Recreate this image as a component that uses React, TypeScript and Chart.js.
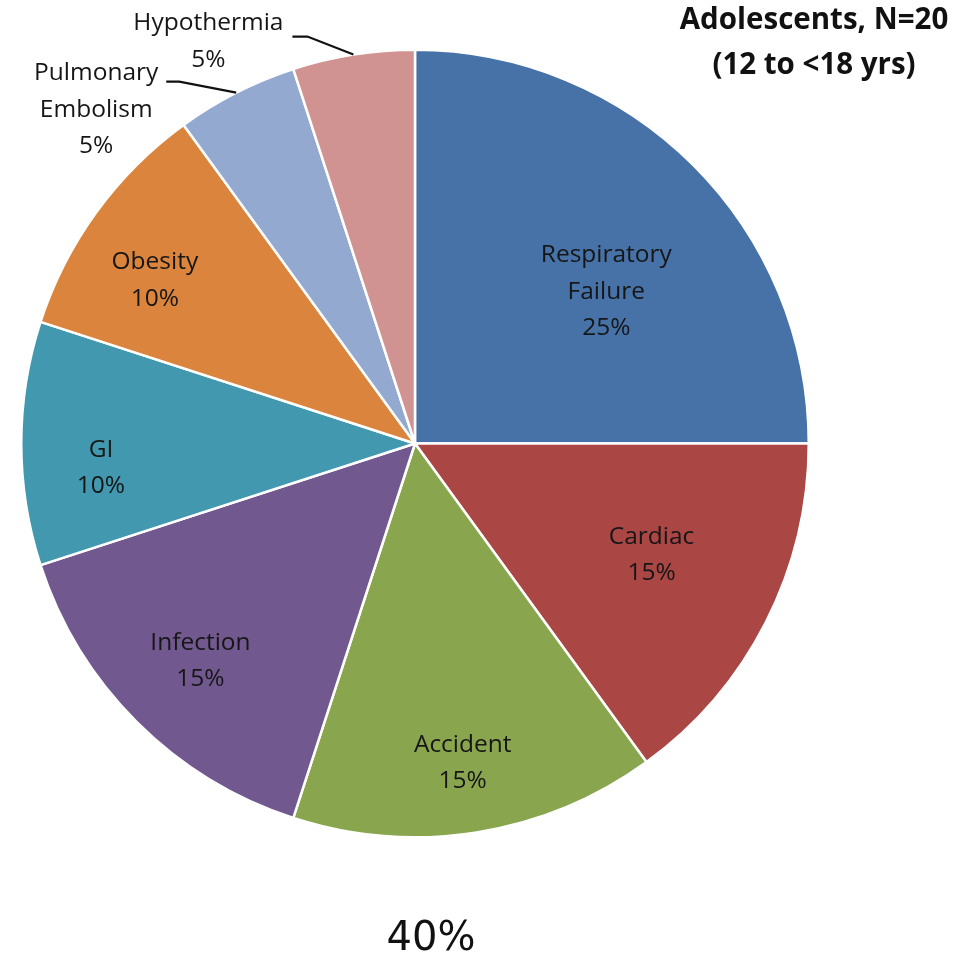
import React, { useEffect, useRef } from "react";
import { Chart, registerables } from "chart.js";

Chart.register(...registerables);

// ---- data ----
const categories = [
  "Respiratory Failure",
  "Cardiac",
  "Accident",
  "Infection",
  "GI",
  "Obesity",
  "Pulmonary Embolism",
  "Hypothermia",
];
const counts = [5, 3, 3, 3, 2, 2, 1, 1];
const sliceColors = [
  "#4672A8",
  "#AA4644",
  "#89A54E",
  "#71588F",
  "#4198AF",
  "#DB843D",
  "#93A9CF",
  "#D19392",
];
const titleLines = ["Adolescents, N=20", "(12 to <18 yrs)"];
const footerText = "40%";

// ---- label layout (style, not data) ----
const labelRadius = [0.62, 0.664, 0.82, 0.776, 0.8, 0.78, 1, 1];
const labelAngleShift = [6.6, -1.8, 0.5, -0.4, -4.5, -3.9, 0, 0];
const leaders: Record<number, { elbow: [number, number]; tail: number; text: [number, number] }> = {
  6: { elbow: [-57, -11], tail: 13, text: [-140, 17] },
  7: { elbow: [-46, -18], tail: 15, text: [-145, -13] },
};

const LABEL_FONT = '24.5px "Open Sans", Lato, sans-serif';
const LINE_H = 36.5;
const TEXT_COLOR = "#161616";

const labelPlugin = {
  id: "sliceLabels",
  afterDatasetsDraw(chart: any) {
    const ctx: CanvasRenderingContext2D = chart.ctx;
    const meta = chart.getDatasetMeta(0);
    const total = counts.reduce((a, b) => a + b, 0);
    meta.data.forEach((arc: any, i: number) => {
      const p = arc.getProps(["x", "y", "startAngle", "endAngle", "outerRadius"], true);
      const mid = (p.startAngle + p.endAngle) / 2;
      const lines = [...categories[i].split(" "), `${Math.round((counts[i] / total) * 100)}%`];
      ctx.save();
      ctx.font = LABEL_FONT;
      ctx.fillStyle = TEXT_COLOR;
      ctx.textAlign = "center";
      ctx.textBaseline = "middle";
      let cx: number;
      let cy: number;
      const leader = leaders[i];
      if (leader) {
        const ex = p.x + p.outerRadius * Math.cos(mid);
        const ey = p.y + p.outerRadius * Math.sin(mid);
        const bx = ex + leader.elbow[0];
        const by = ey + leader.elbow[1];
        ctx.strokeStyle = "#111111";
        ctx.lineWidth = 2.2;
        ctx.beginPath();
        ctx.moveTo(ex, ey);
        ctx.lineTo(bx, by);
        ctx.lineTo(bx - leader.tail, by);
        ctx.stroke();
        cx = ex + leader.text[0];
        cy = ey + leader.text[1];
      } else {
        const a = mid + (labelAngleShift[i] * Math.PI) / 180;
        const rr = labelRadius[i] * p.outerRadius;
        cx = p.x + rr * Math.cos(a);
        cy = p.y + rr * Math.sin(a);
      }
      lines.forEach((t, k) => {
        ctx.fillText(t, cx, cy + (k - (lines.length - 1) / 2) * LINE_H);
      });
      ctx.restore();
    });
  },
  afterDraw(chart: any) {
    const ctx: CanvasRenderingContext2D = chart.ctx;
    ctx.save();
    ctx.fillStyle = "#111111";
    ctx.textAlign = "center";
    ctx.textBaseline = "middle";
    ctx.font = 'bold 29.5px "Open Sans", Lato, sans-serif';
    ctx.fillText(titleLines[0], 814, 21);
    ctx.fillText(titleLines[1], 814, 66);
    ctx.font = '40px "DejaVu Sans", sans-serif';
    ctx.fillText(footerText, 431, 940);
    ctx.restore();
  },
};

export default function App() {
  const canvasRef = useRef<HTMLCanvasElement | null>(null);
  useEffect(() => {
    if (!canvasRef.current) return;
    const chart = new Chart(canvasRef.current, {
      type: "pie",
      data: {
        labels: categories,
        datasets: [
          {
            data: counts,
            backgroundColor: sliceColors,
            borderColor: "#ffffff",
            borderWidth: 2.5,
          },
        ],
      },
      options: {
        animation: false,
        responsive: true,
        maintainAspectRatio: false,
        layout: { padding: { left: 20, top: 47, right: 163, bottom: 120 } },
        plugins: {
          legend: { display: false },
          tooltip: { enabled: false },
          title: { display: false },
        },
      },
      plugins: [labelPlugin],
    });
    return () => chart.destroy();
  }, []);
  return (
    <div style={{ position: "absolute", left: 0, top: 0, width: 973, height: 960, background: "#fff" }}>
      <canvas ref={canvasRef} />
    </div>
  );
}
